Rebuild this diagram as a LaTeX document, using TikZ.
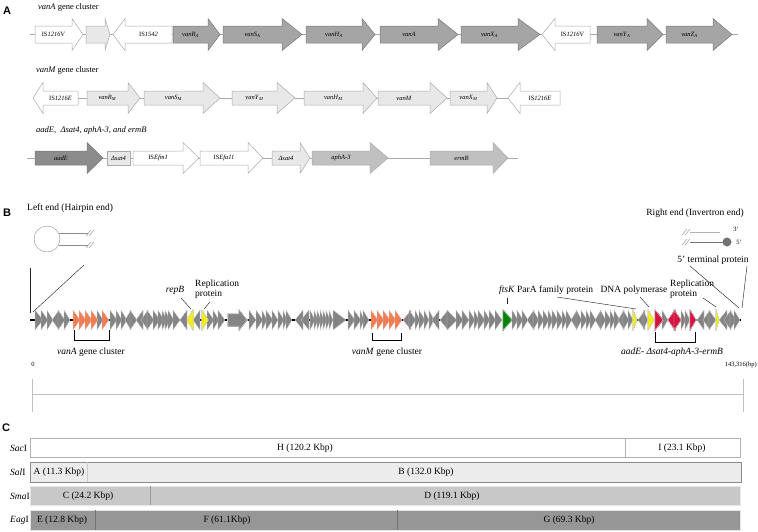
\documentclass[tikz,border=0pt]{standalone}
\usepackage{fontspec}
\setmainfont{Liberation Serif}
\setsansfont{Liberation Sans}
\definecolor{vanAgrey}{RGB}{165,165,165}
\definecolor{vanMgrey}{RGB}{232,232,232}
\definecolor{aadgrey}{RGB}{140,140,140}
\definecolor{resgrey}{RGB}{192,192,192}
\definecolor{edgegrey}{RGB}{120,120,120}
\definecolor{isedge}{RGB}{170,170,170}
\definecolor{orfgrey}{RGB}{132,132,132}
\definecolor{orfedge}{RGB}{205,205,205}
\definecolor{vanorange}{RGB}{242,125,85}
\definecolor{repyellow}{RGB}{240,238,20}
\definecolor{resred}{RGB}{215,20,60}
\definecolor{ftsgreen}{RGB}{0,135,0}
\definecolor{sacfill}{RGB}{255,255,255}
\definecolor{salfill}{RGB}{236,236,236}
\definecolor{smafill}{RGB}{200,200,200}
\definecolor{eagfill}{RGB}{150,150,150}
\newcommand{\gname}[2]{\textit{#1}\textsubscript{\textit{#2}}}
\def\bodyh{8.5}
\def\headh{16}
\newcommand{\genearrow}[7]{%
  \draw[#5] (#1,#4-\bodyh) -- (#2,#4-\bodyh) -- (#2,#4-\headh) -- (#3,#4) -- (#2,#4+\headh) -- (#2,#4+\bodyh) -- (#1,#4+\bodyh) -- cycle;
  \node[genelabel] (#6) at ({(#1+#2)/2},#4) {#7};}
\newcommand{\orf}[3]{\filldraw[fill=#1,draw=orfedge,line width=0.3pt] (#2,310) -- (#3,320) -- (#2,330) -- cycle;}
\tikzset{
  isel/.style={draw=isedge,fill=white,line width=0.5pt},
  vanAgene/.style={draw=edgegrey,fill=vanAgrey,line width=0.5pt},
  vanMgene/.style={draw=isedge,fill=vanMgrey,line width=0.5pt},
  aadgene/.style={draw=edgegrey,fill=aadgrey,line width=0.5pt},
  resgene/.style={draw=isedge,fill=resgrey,line width=0.5pt},
  backbone/.style={draw=isedge,line width=0.5pt},
  genelabel/.style={font=\fontsize{6.5}{7}\selectfont,inner sep=0pt},
  rowtitle/.style={font=\fontsize{8.5}{10}\selectfont\itshape,anchor=west,inner sep=0pt},
  panel/.style={font=\fontsize{11}{12}\selectfont\sffamily\bfseries,inner sep=0pt},
  note/.style={font=\fontsize{9.5}{10.5}\selectfont,inner sep=0pt},
  smallnote/.style={font=\fontsize{6.5}{7}\selectfont,inner sep=0pt},
  lead/.style={draw=black!85,line width=0.45pt},
  thinline/.style={draw=black!45,line width=0.4pt},
  bracket/.style={draw=black,line width=0.6pt},
  mapbox/.style={line width=0.6pt},
}
\begin{document}
\begin{tikzpicture}[x=1pt,y=-1pt]
\useasboundingbox (0,0) rectangle (758,531);
\node[panel] (pA) at (7,11) {A};
\node[rowtitle] (tvanA) at (38,7) {vanA \upshape gene cluster};
\draw[backbone] (30,34.5) -- (738,34.5);
\genearrow{35}{72}{83}{34.5}{isel}{isA1}{IS\textit{1216V}}
\genearrow{86}{105}{110}{34.5}{vanMgene}{orfA}{}
\genearrow{172}{125}{113}{34.5}{isel}{isA2}{IS\textit{1542}}
\genearrow{173}{208}{220}{34.5}{vanAgene}{vanRA}{\gname{vanR}{A}}
\genearrow{223}{282}{302}{34.5}{vanAgene}{vanSA}{\gname{vanS}{A}}
\genearrow{306}{362}{375}{34.5}{vanAgene}{vanHA}{\gname{vanH}{A}}
\genearrow{380}{438}{458}{34.5}{vanAgene}{vanA}{\textit{vanA}}
\genearrow{461}{518}{540}{34.5}{vanAgene}{vanXA}{\gname{vanX}{A}}
\genearrow{590}{555}{542}{34.5}{isel}{isA3}{IS\textit{1216V}}
\genearrow{597}{647}{663}{34.5}{vanAgene}{vanYA}{\gname{vanY}{A}}
\genearrow{666}{713}{732}{34.5}{vanAgene}{vanZA}{\gname{vanZ}{A}}
\def\bodyh{7}
\def\headh{15.5}
\node[rowtitle] (tvanM) at (36,70) {vanM \upshape gene cluster};
\draw[backbone] (33,98) -- (560,98);
\genearrow{78}{43}{33}{98}{isel}{isM1}{IS\textit{1216E}}
\genearrow{87}{128}{140}{98}{vanMgene}{vanRM}{\gname{vanR}{M}}
\genearrow{144}{203}{220}{98}{vanMgene}{vanSM}{\gname{vanS}{M}}
\genearrow{232}{277}{295}{98}{vanMgene}{vanYM}{\gname{vanY}{M}}
\genearrow{304}{363}{377}{98}{vanMgene}{vanHM}{\gname{vanH}{M}}
\genearrow{378}{430}{447}{98}{vanMgene}{vanM}{\textit{vanM}}
\genearrow{450}{487}{497}{98}{vanMgene}{vanXM}{\gname{vanX}{M}}
\genearrow{560}{520}{508}{98}{isel}{isM2}{IS\textit{1216E}}
\node[rowtitle] (tres) at (36,130) {aadE,\ \ Δsat4, aphA-3, and ermB};
\draw[backbone] (27,158) -- (518,158);
\genearrow{35}{87}{103}{158}{aadgene}{aadE}{\textit{aadE}}
\draw[vanMgene] (107,151) rectangle (130,165);
\node[genelabel] (dsatA) at (118.5,158) {\textit{Δsat4}};
\genearrow{133}{183}{199}{158}{isel}{isR1}{IS\textit{Efm1}}
\genearrow{200}{248}{263}{158}{isel}{isR2}{IS\textit{Efa11}}
\genearrow{272}{300}{310}{158}{vanMgene}{dsatB}{\textit{Δsat4}}
\genearrow{312}{370}{388}{158}{resgene}{aphA}{\textit{aphA-3}}
\genearrow{430}{493}{508}{158}{resgene}{ermB}{\textit{ermB}}
\node[panel] (pB) at (7,213) {B};
\node[note,anchor=west] (lend) at (27,208) {Left end (Hairpin end)};
\draw[thinline] (47,239) circle (13);
\draw[thinline] (58.5,233) -- (88,233);
\draw[thinline] (58.5,245) -- (88,245);
\draw[thinline] (86,236) -- (91,230) (89,236) -- (94,230);
\draw[thinline] (86,248) -- (91,242) (89,248) -- (94,242);
\node[note] (rend) at (695,213) {Right end (Invertron end)};
\draw[thinline] (682,235) -- (687,229) (685,235) -- (690,229);
\draw[thinline] (682,245) -- (687,239) (685,245) -- (690,239);
\draw[draw=black!30,line width=0.5pt] (690,232) -- (720,232);
\draw[draw=black!55,line width=1pt] (690,242) -- (727,242);
\fill[black!55] (727,242) circle (4.5);
\node[smallnote] (p3) at (736,229) {3'};
\node[smallnote] (p5) at (739,242) {5'};
\coordinate (hpA) at (30,268);
\coordinate (hpB) at (84,265);
\coordinate (trackL) at (30,313);
\coordinate (trackLb) at (33,312);
\draw[lead] (hpA) -- (trackL);
\draw[lead] (hpB) -- (trackLb);
\draw[line width=1.6pt] (30,320) -- (741,320);
\foreach \a/\b in {35/43,41/48,47/53,59/52,58/65,64/70,97/103,110/117,116/122,121/127,131/125,130/137,
  143/136,148/141,147/154,153/160,158/164,162/167,165/170,168/174,173/180,187/180,200/193,
  207/214,213/219,218/225,249/256,256/263,262/267,266/273,272/278,278/284,283/287,286/292,
  303/295,309/301,310/315,314/318,317/321,320/324,323/327,326/330,329/333,333/346,
  348/355,354/361,360/364,363/369,411/403,409/416,415/420,419/425,424/429,429/434,439/432,
  448/440,447/457,456/463,462/469,469/475,474/479,478/485,484/490,489/496,495/502,
  512/518,517/523,522/528,534/527,533/539,538/544,543/549,548/553,552/558,557/563,562/567,
  566/572,577/571,576/582,581/587,586/591,590/596,601/595,600/606,605/611,610/615,614/620,
  624/618,623/629,628/633,645/638,643/648,662/668,681/686,685/690,704/697,710/703,709/716,
  727/719,731/724,730/736,734/740}
  \orf{orfgrey}{\a}{\b}
\filldraw[fill=orfgrey,draw=orfedge,line width=0.3pt] (228,314) -- (239,314) -- (239,310) -- (247,320) -- (239,330) -- (239,326) -- (228,326) -- cycle;
\foreach \a/\b in {73/80,79/86,85/92,91/98,102/109,371/378,377/384,383/390,389/396,395/402}
  \orf{vanorange}{\a}{\b}
\foreach \a/\b in {193/187,202/208,633/637,648/654,716/719}
  \orf{repyellow}{\a}{\b}
\foreach \a/\b in {655/663,675/668,674/681,690/696}
  \orf{resred}{\a}{\b}
\orf{ftsgreen}{503}{512}
\coordinate (repBg) at (191,309);
\coordinate (repLg) at (204,309);
\coordinate (ftsKg) at (507,304);
\coordinate (parAg) at (636,309);
\coordinate (dnapg) at (649,307);
\coordinate (repRg) at (716,307);
\coordinate (tpA) at (739,308);
\coordinate (tpB) at (742,308);
\node[note] (repB) at (175,290) {\textit{repB}};
\node[note,anchor=west,align=left] (repL) at (195,289) {Replication\\protein};
\node[note] (ftsK) at (507,290) {\textit{ftsK}};
\node[note,anchor=west] (parA) at (517,290) {ParA family protein};
\node[note] (dnap) at (634,290) {DNA polymerase};
\node[note,anchor=west,align=left] (repR) at (670,289) {Replication\\protein};
\node[note] (tprot) at (713,260) {5' terminal protein};
\draw[lead] (181,298) -- (repBg);
\draw[lead] (210,302) -- (repLg);
\draw[lead] (ftsK.south) ++(0,3) -- (ftsKg);
\draw[lead] (557,297) -- (parAg);
\draw[lead] (640,297) -- (dnapg);
\draw[lead] (703,298) -- (repRg);
\draw[lead] (690,266) -- (tpA);
\draw[lead] (747,266) -- (tpB);
\draw[bracket] (74,330) -- (74,340) -- (109,340) -- (109,330);
\draw[bracket] (372,333) -- (372,340) -- (401,340) -- (401,333);
\draw[bracket] (655,332) -- (655,342) -- (695,342) -- (695,332);
\node[note] (cvanA) at (91,352) {\textit{vanA} gene cluster};
\node[note] (cvanM) at (387,352) {\textit{vanM} gene cluster};
\node[note] (cres) at (672,352) {\textit{aadE- Δsat4-aphA-3-ermB}};
\node[smallnote] (s0) at (33,364) {0};
\node[smallnote,anchor=east] (send) at (757,365) {143,316(bp)};
\draw[thinline,draw=black!25] (32,394) -- (743,394);
\draw[thinline,draw=black!25] (32,379) -- (32,412);
\draw[thinline,draw=black!25] (743,379) -- (743,412);
\node[panel] (pC) at (6,428) {C};
\draw[mapbox,draw=black!30,fill=sacfill] (30,438) rectangle (740,457);
\draw[mapbox,draw=black!30] (625,438) -- (625,457);
\draw[mapbox,draw=black!45,fill=salfill] (30,462) rectangle (741,482);
\draw[mapbox,draw=black!20] (87,462) -- (87,482);
\draw[mapbox,draw=black!10,fill=smafill] (30,486) rectangle (740,505);
\draw[mapbox,draw=black!40] (150,486) -- (150,505);
\draw[mapbox,draw=black!10,fill=eagfill] (30,510) rectangle (740,530);
\draw[mapbox,draw=black!55] (95,510) -- (95,530);
\draw[mapbox,draw=black!55] (397,510) -- (397,530);
\node[note,anchor=west] (sac) at (10,448) {\textit{Sac}I};
\node[note,anchor=west] (sal) at (10,472) {\textit{Sal}I};
\node[note,anchor=west] (sma) at (10,496) {\textit{Sma}I};
\node[note,anchor=west] (eag) at (10,520) {\textit{Eag}I};
\node[note] (fH) at (305,448) {H (120.2 Kbp)};
\node[note] (fI) at (682,448) {I (23.1 Kbp)};
\node[note] (fA) at (59,472) {A (11.3 Kbp)};
\node[note] (fB) at (426,472) {B (132.0 Kbp)};
\node[note] (fC) at (88,496) {C (24.2 Kbp)};
\node[note] (fD) at (452,496) {D (119.1 Kbp)};
\node[note] (fE) at (62,520) {E (12.8 Kbp)};
\node[note] (fF) at (227,520) {F (61.1Kbp)};
\node[note] (fG) at (569,520) {G (69.3 Kbp)};
\end{tikzpicture}
\end{document}
